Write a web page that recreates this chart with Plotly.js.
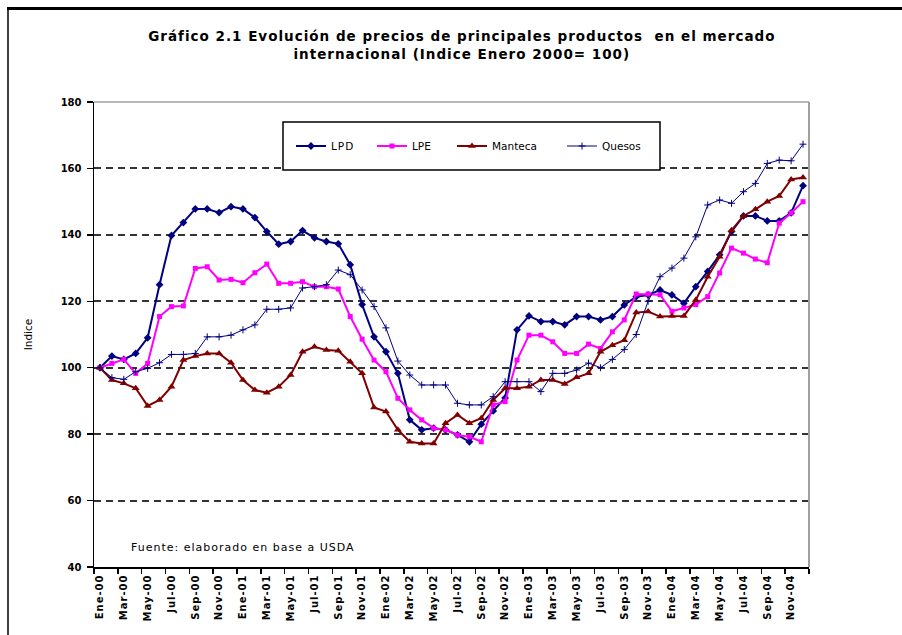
<!DOCTYPE html>
<html>
<head>
<meta charset="utf-8">
<script src="https://cdn.plot.ly/plotly-3.0.1.min.js"></script>
<style>
html,body{margin:0;padding:0;background:#fff;}
#chart{width:902px;height:635px;}
#chart .gtitle{letter-spacing:1px;}
#chart .xtick text{letter-spacing:1px;}
#chart .legendtext{letter-spacing:1px;}
#chart .annotation-text{letter-spacing:1px;}
</style>
</head>
<body>
<div id="chart"></div>
<script>
var monthNames = ['Ene','Feb','Mar','Abr','May','Jun','Jul','Ago','Sep','Oct','Nov','Dic'];
var years = ['00','01','02','03','04'];
var months = [];
years.forEach(function(y){ monthNames.forEach(function(m){ months.push(m + '-' + y); }); });

var lpd = [100,103.5,102.5,104.3,109,125,139.8,143.7,147.8,147.8,146.7,148.5,147.8,145.2,141,137.2,138,141.3,139.1,138,
  137.3,131,119,109.3,104.8,98.3,84.3,81.3,81.8,81.3,79.8,77.7,83,87,90.9,111.4,115.6,113.9,113.9,112.9,
  115.4,115.4,114.4,115.4,118.9,121.4,121.9,123.4,121.9,119.4,124.4,129,134,141,145.7,145.7,144.2,144.2,146.6,154.8];
var lpe = [100,101.3,102.5,98.3,101.3,115.4,118.4,118.6,129.9,130.4,126.4,126.6,125.6,128.6,131.2,125.4,125.4,125.9,124.4,124.4,
  123.7,115.4,108.6,102.3,98.8,90.8,87.3,84.3,81.8,81.3,79.7,79.2,77.7,88.8,89.8,102.3,109.8,109.8,107.8,104.3,
  104.3,107.1,105.8,110.8,114.4,122.2,122.2,122,117,118,119,121.4,128.5,136,134.5,132.7,131.6,143.5,146.6,150];
var manteca = [100,96.3,95.3,93.8,88.5,90.3,94.3,102.3,103.5,104.3,104.3,101.5,96.3,93.3,92.5,94.3,97.8,104.8,106.3,105.3,
  105.1,101.8,98.3,88,86.8,81.3,77.7,77.2,77.2,83.3,85.8,83.3,84.8,90.3,93.8,93.8,94.3,96.3,96.3,95.1,
  97.1,98.3,104.8,106.8,108.3,116.6,116.9,115.4,115.6,115.6,120.4,127.4,133.4,141.4,145.7,147.7,150,151.7,156.7,157.3];
var quesos = [100,97,96.5,98.8,99.8,101.5,104,104,104.3,109.3,109.3,109.8,111.4,112.9,117.6,117.6,118,124,124.4,125,
  129.4,128,123.4,118.4,112,102,97.8,94.8,94.8,94.8,89.3,88.8,88.8,91.3,95.8,95.8,95.8,92.8,98.3,98.3,
  99.3,101.4,100,102.5,105.5,110,120,127.4,130,133,139.4,149,150.5,149.5,153,155.5,161.5,162.5,162.3,167.3];

var seriesNames = ['LPD','LPE','Manteca','Quesos'];
var idx = months.map(function(m,i){ return i; });
var tickIdx = idx.filter(function(i){ return i % 2 === 0; });
var tickText = tickIdx.map(function(i){ return months[i]; });
var boundaries = [];
for (var b = -0.5; b <= months.length - 0.5; b += 2) boundaries.push(b);
boundaries.push(months.length - 0.5);

var F = 'DejaVu Sans';
var navy = '#000080';

var traces = [
  {x: idx, y: lpd, name: seriesNames[0], type: 'scatter', mode: 'lines+markers', legend: 'legend',
   line: {color: navy, width: 2}, marker: {symbol: 'diamond', size: 6, color: navy}},
  {x: idx, y: lpe, name: seriesNames[1], type: 'scatter', mode: 'lines+markers', legend: 'legend2',
   line: {color: '#ff00ff', width: 2}, marker: {symbol: 'square', size: 5, color: '#ff00ff'}},
  {x: idx, y: manteca, name: seriesNames[2], type: 'scatter', mode: 'lines+markers', legend: 'legend3',
   line: {color: '#800000', width: 2}, marker: {symbol: 'triangle-up', size: 7, color: '#800000'}},
  {x: idx, y: quesos, name: seriesNames[3], type: 'scatter', mode: 'lines+markers', legend: 'legend4',
   line: {color: navy, width: 1}, marker: {symbol: 'cross-thin', size: 5, color: navy, line: {color: navy, width: 1}}}
];

function leg(xpx) {
  return {x: (xpx - 94) / 715, xanchor: 'left', y: (567 - 146) / 465, yanchor: 'middle',
    orientation: 'h', bgcolor: 'rgba(0,0,0,0)', borderwidth: 0, font: {family: F, size: 10.5, color: '#000'}};
}

var layout = {
  width: 902, height: 635,
  margin: {l: 94, r: 93, t: 102, b: 68},
  paper_bgcolor: '#fff', plot_bgcolor: '#fff',
  title: {text: 'Gráfico 2.1 Evolución de precios de principales productos  en el mercado<br>internacional (Indice Enero 2000= 100)',
    x: 0.512, xanchor: 'center', yref: 'container', y: 1 - 41 / 635, yanchor: 'middle',
    font: {family: F, size: 13.5, color: '#000', weight: 'bold'}},
  showlegend: true,
  legend: leg(291), legend2: leg(372), legend3: leg(452), legend4: leg(562),
  xaxis: {range: [-0.5, months.length - 0.5], tickmode: 'array', tickvals: tickIdx, ticktext: tickText,
    tickangle: -90, ticks: '', showgrid: false, zeroline: false, showline: true, linecolor: '#000', linewidth: 1.5,
    tickfont: {family: F, size: 10, color: '#000', weight: 'bold'}, ticklabelstandoff: 2,
    minor: {tickmode: 'array', tickvals: boundaries, ticks: 'outside', ticklen: 5, tickwidth: 1.5, tickcolor: '#000', showgrid: false}},
  yaxis: {range: [40, 180], tickmode: 'linear', tick0: 40, dtick: 20, showgrid: true, gridcolor: '#333', gridwidth: 2,
    griddash: '7px,5px', zeroline: false, showline: true, linecolor: '#000', linewidth: 1.5,
    ticks: 'outside', ticklen: 6, tickwidth: 1.5, tickcolor: '#000', ticklabelstandoff: 3,
    tickfont: {family: F, size: 10, color: '#000', weight: 'bold'},
    title: {text: 'Indice', standoff: 26, font: {family: F, size: 10.5, color: '#000'}}},
  annotations: [
    {xref: 'paper', yref: 'paper', x: (145 - 94) / 715, y: (567 - 547) / 465, xanchor: 'left', yanchor: 'middle',
     text: 'Fuente: elaborado en base a USDA', showarrow: false, font: {family: F, size: 11, color: '#000'}}
  ],
  shapes: [
    {type: 'line', xref: 'paper', yref: 'paper', x0: 0, x1: 1, y0: 1, y1: 1, line: {color: '#a0a0a0', width: 1.5}},
    {type: 'line', xref: 'paper', yref: 'paper', x0: 1, x1: 1, y0: 0, y1: 1, line: {color: '#a0a0a0', width: 2}},
    {type: 'rect', xref: 'paper', yref: 'paper', x0: (283 - 94) / 715, x1: (660 - 94) / 715,
     y0: (567 - 170) / 465, y1: (567 - 122) / 465, line: {color: '#000', width: 1.5}, fillcolor: '#fff', layer: 'above'},
    {type: 'line', xref: 'paper', yref: 'paper', x0: (7 - 94) / 715, x1: (905 - 94) / 715,
     y0: (567 - 8.5) / 465, y1: (567 - 8.5) / 465, line: {color: '#000', width: 3}},
    {type: 'line', xref: 'paper', yref: 'paper', x0: (8 - 94) / 715, x1: (8 - 94) / 715,
     y0: (567 - 8) / 465, y1: (567 - 640) / 465, line: {color: '#000', width: 1.5}}
  ]
};

Plotly.newPlot('chart', traces, layout, {displayModeBar: false, staticPlot: true});
</script>
</body>
</html>
